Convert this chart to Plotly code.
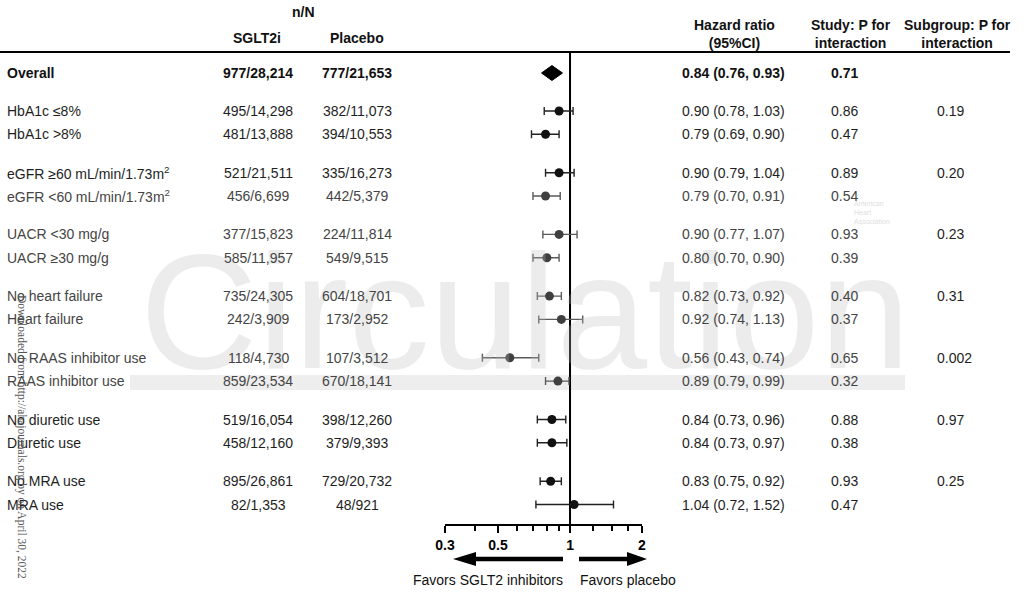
import numpy as np
import plotly.graph_objects as go

# ---------------- data ----------------
labels = ["Overall", "HbA1c ≤8%", "HbA1c >8%",
          "eGFR ≥60 mL/min/1.73m<sup>2</sup>", "eGFR <60 mL/min/1.73m<sup>2</sup>",
          "UACR <30 mg/g", "UACR ≥30 mg/g",
          "No heart failure", "Heart failure",
          "No RAAS inhibitor use", "RAAS inhibitor use",
          "No diuretic use", "Diuretic use",
          "No MRA use", "MRA use"]
sglt2_nN = ["977/28,214", "495/14,298", "481/13,888", "521/21,511", "456/6,699",
            "377/15,823", "585/11,957", "735/24,305", "242/3,909", "118/4,730",
            "859/23,534", "519/16,054", "458/12,160", "895/26,861", "82/1,353"]
placebo_nN = ["777/21,653", "382/11,073", "394/10,553", "335/16,273", "442/5,379",
              "224/11,814", "549/9,515", "604/18,701", "173/2,952", "107/3,512",
              "670/18,141", "398/12,260", "379/9,393", "729/20,732", "48/921"]
hr = [0.84, 0.90, 0.79, 0.90, 0.79, 0.90, 0.80, 0.82, 0.92, 0.56, 0.89, 0.84, 0.84, 0.83, 1.04]
ci_low = [0.76, 0.78, 0.69, 0.79, 0.70, 0.77, 0.70, 0.73, 0.74, 0.43, 0.79, 0.73, 0.73, 0.75, 0.72]
ci_high = [0.93, 1.03, 0.90, 1.04, 0.91, 1.07, 0.90, 0.92, 1.13, 0.74, 0.99, 0.96, 0.97, 0.92, 1.52]
study_p = ["0.71", "0.86", "0.47", "0.89", "0.54", "0.93", "0.39", "0.40", "0.37",
           "0.65", "0.32", "0.88", "0.38", "0.93", "0.47"]
subgroup_p = ["", "0.19", "", "0.20", "", "0.23", "", "0.31", "", "0.002", "", "0.97", "", "0.25", ""]
tick_vals = [0.3, 0.5, 1, 2]
tick_text = ["0.3", "0.5", "1", "2"]
minor_tick_vals = [0.4, 0.6, 0.7, 0.8, 0.9, 1.25, 1.5, 1.75]

# ---------------- styling / layout ----------------
W, H = 1024, 592
FONT = "Liberation Sans"
row_tone = ["k", "k", "k", "k", "g", "g", "g", "g", "g", "g", "g", "k", "k", "k", "k"]
TXT = {"k": "#1e1e1e", "g": "#444444"}
MRK = {"k": "#111111", "g": "#3f3f3f"}
ERR = {"k": "#222222", "g": "#5a5a5a"}

PLOT_TOP, PLOT_BOT = 52, 524
X_LEFT, X_RIGHT = 445, 642


def row_px(i):
    if i == 0:
        return 73
    g, k = divmod(i - 1, 2)
    return 111 + 61.7 * g + 23.3 * k


def px(x):
    return x / W


def py(y):
    return 1 - y / H


rows_y = [row_px(i) for i in range(len(labels))]

fig = go.Figure()

# reference line at HR = 1
fig.add_trace(go.Scatter(x=[1, 1], y=[PLOT_TOP, PLOT_BOT], mode="lines",
                         line=dict(color="black", width=2), hoverinfo="skip"))

# overall diamond
d = 7.5
fig.add_trace(go.Scatter(
    x=[ci_low[0], hr[0], ci_high[0], hr[0], ci_low[0]],
    y=[rows_y[0], rows_y[0] - d, rows_y[0], rows_y[0] + d, rows_y[0]],
    mode="lines", fill="toself", fillcolor="black", line=dict(color="black", width=1),
    hoverinfo="skip"))

# subgroup points with CI
for tone in ["k", "g"]:
    idx = [i for i in range(1, len(labels)) if row_tone[i] == tone]
    fig.add_trace(go.Scatter(
        x=[hr[i] for i in idx], y=[rows_y[i] for i in idx], mode="markers",
        marker=dict(size=9, color=MRK[tone], symbol="circle"),
        error_x=dict(type="data", symmetric=False,
                     array=[ci_high[i] - hr[i] for i in idx],
                     arrayminus=[hr[i] - ci_low[i] for i in idx],
                     color=ERR[tone], thickness=1.4, width=4),
        hoverinfo="skip"))

ann = []
# watermark
ann.append(dict(text="Circulation", x=px(525), y=py(311), xref="paper", yref="paper",
                xanchor="center", yanchor="middle", showarrow=False,
                font=dict(family=FONT, size=163, color="rgba(185,185,185,0.28)")))
ann.append(dict(text="American<br>Heart<br>Association", x=px(852), y=py(212), xref="paper",
                yref="paper", xanchor="left", yanchor="middle", showarrow=False, align="left",
                font=dict(family=FONT, size=7, color="#dedede")))

# headers
def hdr(text, x, y, size=14):
    ann.append(dict(text=f"<b>{text}</b>", x=px(x), y=py(y), xref="paper", yref="paper",
                    xanchor="center", yanchor="middle", showarrow=False, align="center",
                    font=dict(family=FONT, size=size, color="#111")))

hdr("n/N", 303, 12)
hdr("SGLT2i", 257, 38)
hdr("Placebo", 357, 38)
hdr("Hazard ratio<br>(95%CI)", 734, 34)
hdr("Study: P for<br>interaction", 851, 34)
hdr("Subgroup: P for<br>interaction", 957, 34)

# rows
for i, lab in enumerate(labels):
    y = rows_y[i]
    col = TXT[row_tone[i]]
    b0, b1 = ("<b>", "</b>") if i == 0 else ("", "")
    hr_txt = f"{hr[i]:.2f} ({ci_low[i]:.2f}, {ci_high[i]:.2f})"
    items = [(lab, 5, "left"), (sglt2_nN[i], 258, "center"), (placebo_nN[i], 357, "center"),
             (hr_txt, 680, "left"), (study_p[i], 844, "center")]
    for t, x, xa in items:
        ann.append(dict(text=b0 + t + b1, x=px(x), y=y, xref="paper", yref="y",
                        xanchor=xa, yanchor="middle", showarrow=False,
                        font=dict(family=FONT, size=14, color=col if i else "#111")))
    if subgroup_p[i]:
        ann.append(dict(text=subgroup_p[i], x=px(935), y=y, xref="paper", yref="y",
                        xanchor="left", yanchor="middle", showarrow=False,
                        font=dict(family=FONT, size=14, color="#1e1e1e")))

# favors labels
ann.append(dict(text="Favors SGLT2 inhibitors", x=px(488), y=py(580), xref="paper", yref="paper",
                xanchor="center", yanchor="middle", showarrow=False,
                font=dict(family=FONT, size=14, color="#111")))
ann.append(dict(text="Favors placebo", x=px(628), y=py(580), xref="paper", yref="paper",
                xanchor="center", yanchor="middle", showarrow=False,
                font=dict(family=FONT, size=14, color="#111")))

# side download note
ann.append(dict(text="Downloaded from http://ahajournals.org by on April 30, 2022",
                x=px(22), y=py(437), xref="paper", yref="paper", textangle=90,
                xanchor="center", yanchor="middle", showarrow=False,
                font=dict(family="Liberation Serif", size=11.5, color="#555")))

shapes = []
# watermark bar
shapes.append(dict(type="rect", xref="paper", yref="paper", x0=px(130), x1=px(905),
                   y0=py(390), y1=py(375), fillcolor="#eeeeee", line=dict(width=0), layer="below"))
# header rule
shapes.append(dict(type="line", xref="paper", yref="paper", x0=0, x1=px(1010),
                   y0=py(PLOT_TOP), y1=py(PLOT_TOP), line=dict(color="black", width=2)))


def poly(pts):
    return "M " + " L ".join(f"{px(a):.5f},{py(b):.5f}" for a, b in pts) + " Z"

# arrows
ay = 559
shapes.append(dict(type="path", xref="paper", yref="paper", fillcolor="black", line=dict(width=0),
                   path=poly([(563, ay - 2.2), (476, ay - 2.2), (476, ay - 7), (453, ay),
                              (476, ay + 7), (476, ay + 2.2), (563, ay + 2.2)])))
shapes.append(dict(type="path", xref="paper", yref="paper", fillcolor="black", line=dict(width=0),
                   path=poly([(579, ay - 2.2), (627, ay - 2.2), (627, ay - 7), (647, ay),
                              (627, ay + 7), (627, ay + 2.2), (579, ay + 2.2)])))

fig.update_layout(
    width=W, height=H, margin=dict(l=0, r=0, t=0, b=0, autoexpand=False),
    paper_bgcolor="white", plot_bgcolor="rgba(0,0,0,0)", showlegend=False,
    annotations=ann, shapes=shapes,
    xaxis=dict(type="log", domain=[px(X_LEFT), px(X_RIGHT)],
               range=[np.log10(tick_vals[0]), np.log10(tick_vals[-1])],
               tickvals=tick_vals, ticktext=[f"<b>{t}</b>" for t in tick_text],
               ticks="outside", ticklen=7, tickwidth=2, tickcolor="black",
               showline=True, linecolor="black", linewidth=2, showgrid=False, zeroline=False,
               tickfont=dict(family=FONT, size=14, color="black"), automargin=False,
               minor=dict(tickvals=minor_tick_vals, ticks="outside", ticklen=5,
                          tickwidth=1.5, tickcolor="black", showgrid=False),
               fixedrange=True),
    yaxis=dict(domain=[py(PLOT_BOT), py(PLOT_TOP)], range=[PLOT_BOT, PLOT_TOP],
               visible=False, fixedrange=True, automargin=False),
)

fig.write_html("out.html", config={"displayModeBar": False},
               post_script="document.body.style.margin='0';document.body.style.overflow='hidden';")
